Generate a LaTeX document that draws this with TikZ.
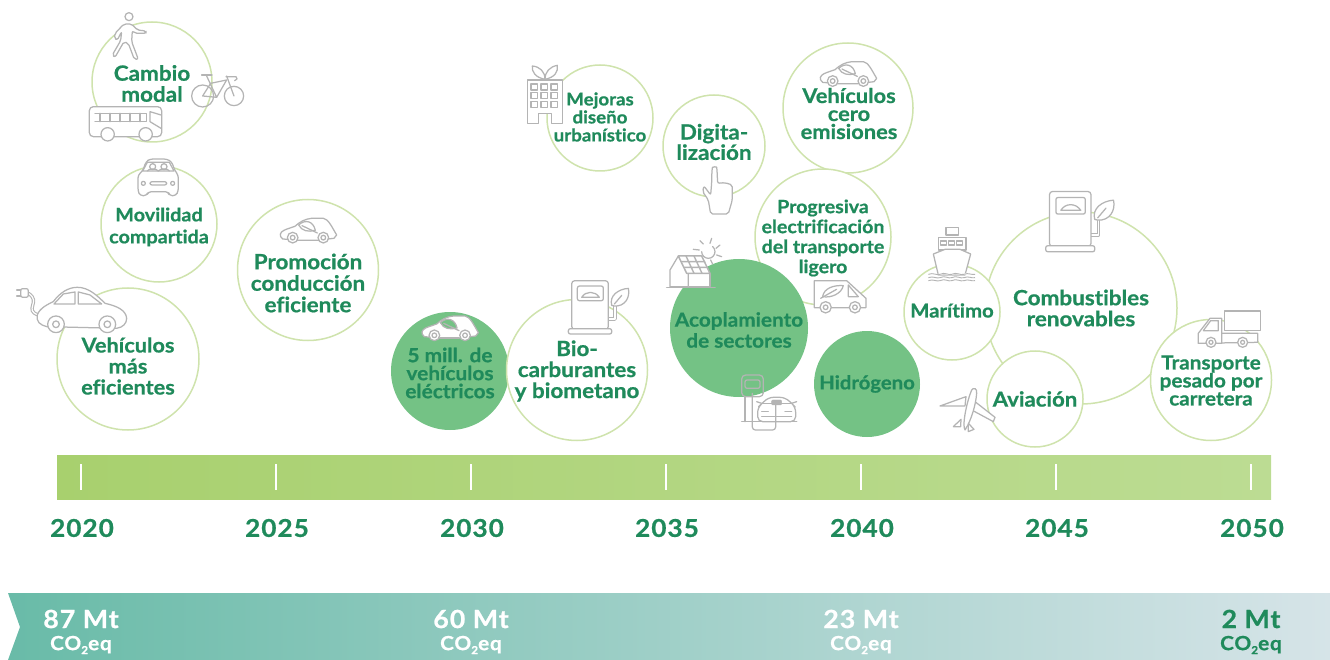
\documentclass[tikz,border=0pt]{standalone}
\usepackage{fontspec}
\setmainfont{Lato}[Ligatures=NoCommon,BoldFeatures={FakeBold=0.7,FakeStretch=1.07}]
\newfontfamily\spacedfont{Lato}[Ligatures=NoCommon,LetterSpace=4,BoldFeatures={FakeBold=0.7,FakeStretch=1.07}]
\definecolor{txtgreen}{HTML}{1F8A5B}
\definecolor{ringgreen}{HTML}{CFE3AD}
\definecolor{fillgreen}{HTML}{74C285}
\definecolor{icogray}{HTML}{B4B4B4}
\definecolor{barL}{HTML}{A8D06E}
\definecolor{barR}{HTML}{BCDC93}
\definecolor{bandL}{HTML}{69BBA8}
\definecolor{bandR}{HTML}{D6E4E8}
\colorlet{leaffill}{white}
\newcommand{\cotwo}{CO\raisebox{-.4ex}{\fontsize{11}{11}\selectfont 2}eq}
\tikzset{
 ring/.style={circle,draw=ringgreen,line width=1.5pt,fill=white,inner sep=0pt},
 solid disc/.style={circle,fill=fillgreen,inner sep=0pt},
 lbl/.style 2 args={text=txtgreen,align=center,inner sep=0pt,font=\bfseries\fontsize{#1}{#2}\selectfont},
 ico/.style={draw=icogray,line width=1.25pt,fill=white,line join=round},
 icol/.style={draw=icogray,line width=1.25pt,line join=round,line cap=round},
 tick mark/.style={draw=white,line width=1.2pt},
 year/.style={text=txtgreen,inner sep=0pt,font=\spacedfont\bfseries\fontsize{24.5}{24.5}\selectfont},
 mt/.style={inner sep=0pt,font=\spacedfont\bfseries\fontsize{25}{25}\selectfont},
 coeq/.style={inner sep=0pt,font=\spacedfont\bfseries\fontsize{19.5}{19.5}\selectfont},
 leafcar/.pic={\begin{scope}[x=.3333pt,y=-.3333pt]
   \path[ico] (8,62) .. controls (-4,52) and (0,42) .. (12,36) .. controls (25,30) and (35,28) .. (45,24) .. controls (60,10) and (75,2) .. (95,0) -- (130,0) .. controls (145,2) and (155,25) .. (170,50) -- (162,60) -- (112,66) -- (55,66) -- cycle;
   \path[icol] (55,66) -- (112,66);
   \path[ico,fill=leaffill] (56,20) .. controls (75,2) and (100,8) .. (106,36) .. controls (85,42) and (65,38) .. (56,20) -- cycle;
   \path[icol] (66,22) -- (112,44);
   \foreach \cx in {38,130}{\path[ico] (\cx,58) circle (16); \path[ico] (\cx,58) circle (7);}
 \end{scope}},
 fuelpump/.pic={\begin{scope}[x=.3333pt,y=-.3333pt]
   \path[draw=icogray,line width=3.6pt,line join=round] (105,115) -- (130,115) -- (130,76);
   \path[draw=white,line width=1.4pt,line join=round] (105,115) -- (130,115) -- (130,76);
   \path[ico] (120,74) .. controls (112,45) and (140,25) .. (170,23) .. controls (176,50) and (160,78) .. (128,76) .. controls (124,76) and (122,76) .. (120,74) -- cycle;
   \path[icol] (128,70) -- (150,44);
   \path[ico,rounded corners=3pt] (0,0) rectangle (110,146);
   \path[ico,rounded corners=2pt] (17,16) rectangle (95,60);
   \path[ico] (30,50) .. controls (42,30) and (70,30) .. (83,50) -- cycle;
   \path[ico,rounded corners=2pt] (-10,144) rectangle (120,160);
 \end{scope}}
}
\begin{document}
\begin{tikzpicture}[x=1pt,y=-1pt]
\useasboundingbox (0,0) rectangle (1330,660);
% timeline bar
\node[minimum width=1214pt,minimum height=44pt,inner sep=0pt,left color=barL,right color=barR,anchor=north west] (bar) at (57,455) {};
\foreach \x/\y in {81/2020,276/2025,471/2030,666/2035,861/2040,1056/2045,1251/2050}{
  \coordinate (ta\y) at (\x,464); \coordinate (tb\y) at (\x,490);
  \draw[tick mark] (ta\y) -- (tb\y);
  \node[year] (y\y) at (\x+1,528) {\y};
}
% band
\shade[left color=bandL,right color=bandR] (8,593) -- (1330,593) -- (1330,660) -- (8,660) -- (20,627) -- cycle;
\node[mt,text=white] (m87) at (81,619) {87 Mt};
\node[coeq,text=white] (c87) at (81,645) {\cotwo};
\node[mt,text=white] (m60) at (471,619) {60 Mt};
\node[coeq,text=white] (c60) at (471,645) {\cotwo};
\node[mt,text=white] (m23) at (861,619) {23 Mt};
\node[coeq,text=white] (c23) at (861,645) {\cotwo};
\node[mt,text=txtgreen] (m2) at (1251,619) {2 Mt};
\node[coeq,text=txtgreen] (c2) at (1251,645) {\cotwo};
% circles
\node[ring,minimum size=120pt] (cambio) at (152,82) {};
\node[ring,minimum size=116pt] (movil) at (159,224) {};
\node[ring,minimum size=141pt] (promo) at (308,270) {};
\node[ring,minimum size=142pt] (vmas) at (128,359) {};
\node[solid disc,minimum size=118pt] (cinco) at (450,371) {};
\node[ring,minimum size=141pt] (bio) at (577,370) {};
\node[ring,minimum size=106pt] (mejoras) at (600,118) {};
\node[ring,minimum size=102pt] (digita) at (714,146) {};
\node[ring,minimum size=130pt] (vcero) at (848,108) {};
\node[ring,minimum size=136pt] (progre) at (823,237) {};
\node[solid disc,minimum size=138pt] (acopla) at (739,328) {};
\node[solid disc,minimum size=106pt] (hidro) at (867,384) {};
\node[ring,minimum size=192pt] (combu) at (1081,308) {};
\node[ring,minimum size=96pt] (marit) at (952,312) {};
\node[ring,minimum size=96pt] (avia) at (1035,399) {};
\node[ring,minimum size=121pt] (pesado) at (1211,380) {};
% ------- icons, zoom-1 frame
\begin{scope}[x=.3333pt,y=-.3333pt]
  % walker
  \path[ico] (387,50) circle (12);
  \path[ico,rounded corners=2pt] (372,72) -- (395,72) -- (412,90) -- (438,93) -- (438,100) -- (405,100) -- (397,92) -- (395,125) -- (415,178) -- (403,178) -- (385,130) -- (372,125) -- (345,172) -- (337,165) -- (362,122) -- (365,95) -- (352,120) -- (343,115) -- (345,100) -- cycle;
  % bike
  \path[icol] (608,288) circle (33) (702,288) circle (29);
  \path[icol] (620,228) -- (650,292) -- (608,288) -- (632,250) -- (680,240) -- (650,292);
  \path[icol] (605,225) -- (636,225);
  \path[icol] (680,228) -- (702,288);
  \path[icol] (678,230) -- (708,230) .. controls (714,232) and (712,242) .. (704,242);
  % bus
  \path[ico,rounded corners=4pt] (268,320) rectangle (485,410);
  \path[icol] (285,340) -- (440,340) -- (440,365) -- (285,365);
  \foreach \x in {300,330,360,390,420}{\path[icol] (\x,340) -- (\x,365);}
  \path[icol] (450,335) -- (483,345) (450,335) -- (450,365) -- (483,385);
  \path[ico] (323,403) circle (20) (437,403) circle (20);
\end{scope}
% shared car
\begin{scope}[shift={(130,155)},x=.3333pt,y=-.3333pt]
  \path[ico,rounded corners=3pt] (38,48) -- (48,20) -- (60,12) -- (110,12) -- (125,20) -- (135,48) -- (145,60) -- (145,108) -- (138,122) -- (118,122) -- (115,110) -- (55,110) -- (50,122) -- (30,122) -- (24,108) -- (24,60) -- cycle;
  \path[icol] (52,22) -- (118,22) -- (132,48) -- (38,48) -- cycle;
  \path[ico] (68,35) circle (9) (102,35) circle (9);
  \path[icol] (52,48) .. controls (55,40) and (80,40) .. (85,48) .. controls (90,40) and (115,40) .. (118,48);
  \path[ico] (40,85) circle (6) (128,85) circle (6);
  \path[ico,rounded corners=2pt] (60,80) rectangle (110,90);
\end{scope}
% plug & e-car
\begin{scope}[x=.3333pt,y=-.3333pt]
  \path[draw=icogray,line width=3.4pt] (115,945) .. controls (70,930) and (125,905) .. (85,880);
  \path[draw=white,line width=1.2pt] (115,945) .. controls (70,930) and (125,905) .. (85,880);
  \path[ico,rounded corners=2pt] (62,866) rectangle (85,892);
  \path[icol] (50,870) -- (62,870) (50,888) -- (62,888);
  \path[ico] (140,980) .. controls (120,975) and (108,965) .. (112,945) .. controls (118,925) and (145,912) .. (160,905) .. controls (180,878) and (205,862) .. (232,862) .. controls (265,862) and (290,885) .. (315,910) .. controls (350,918) and (378,930) .. (380,955) .. controls (380,970) and (370,982) .. (350,985) -- (140,980) -- cycle;
  \path[ico] (162,912) -- (190,882) -- (225,876) -- (225,912) -- cycle;
  \path[ico] (235,876) -- (270,885) -- (305,912) -- (235,912) -- cycle;
  \foreach \cx in {168,322}{\path[ico] (\cx,973) circle (25); \path[ico] (\cx,973) circle (10);}
\end{scope}
\pic at (280,218.3) {leafcar};
\pic at (820,61.7) {leafcar};
\begin{scope}\colorlet{leaffill}{fillgreen}\pic at (421.7,316) {leafcar};\end{scope}
\pic at (571.7,280.7) {fuelpump};
\pic[scale=1.13] at (1049.5,191.5) {fuelpump};
% ------- icons, zoom-2 frame
\begin{scope}[shift={(400,40)},x=.3333pt,y=-.3333pt]
  % building
  \path[ico] (382,250) -- (382,120) -- (487,120) -- (487,250) -- (455,250) -- (455,220) -- (415,220) -- (415,250) -- cycle;
  \foreach \x in {393,423,453}\foreach \y in {132,158,184}{\path[icol] (\x,\y) rectangle (\x+20,\y+18);}
  \path[ico] (435,118) .. controls (405,112) and (395,95) .. (397,78) .. controls (420,80) and (435,95) .. (435,118) -- cycle;
  \path[ico] (435,118) .. controls (465,112) and (475,95) .. (472,76) .. controls (450,80) and (435,95) .. (435,118) -- cycle;
  % hand
  \path[ico,rounded corners=2pt] (935,430) -- (936,388) .. controls (938,380) and (950,380) .. (951,388) -- (953,430) -- (975,428) -- (997,435) -- (997,480) -- (985,522) -- (932,522) -- (925,480) -- (908,455) -- (912,438) -- (932,465) -- cycle;
  % van
  \path[ico] (1243,795) -- (1243,722) -- (1340,722) -- (1398,775) -- (1398,803) -- (1243,803) -- cycle;
  \path[icol] (1345,735) -- (1375,770) -- (1345,770) -- cycle;
  \path[ico] (1268,770) .. controls (1272,745) and (1300,735) .. (1330,737) .. controls (1325,760) and (1295,775) .. (1268,770) -- cycle;
  \path[icol] (1262,775) -- (1310,748);
  \foreach \cx in {1277,1365}{\path[ico] (\cx,802) circle (17); \path[ico] (\cx,802) circle (7);}
\end{scope}
% solar house
\begin{scope}[shift={(660,230)},x=.3333pt,y=-.3333pt]
  \path[icol] (125,65) arc (180:-50:20);
  \foreach \a/\b/\c/\d in {120/32/130/42,155/25/150/40,180/45/168/55,185/80/170/75,100/58/118/60,158/102/152/90}{\path[icol] (\a,\b) -- (\c,\d);}
  \path[ico] (30,170) -- (30,120) -- (55,78) -- (85,130) -- (85,170) -- cycle;
  \path[ico] (85,130) rectangle (150,170);
  \path[ico,line width=1.5pt] (55,78) -- (125,78) -- (150,130) -- (80,130) -- cycle;
  \path[icol,line width=1.4pt] (63,95) -- (134,95) (72,112) -- (142,112) (78,78) -- (102,130) (102,78) -- (126,130);
  \path[icol,line width=1.6pt] (20,172) -- (165,172);
\end{scope}
% charger + car
\begin{scope}[shift={(735,370)},x=.3333pt,y=-.3333pt]
  \path[icol,rounded corners=4pt] (20,15) rectangle (85,80);
  \path[icol,rounded corners=2pt] (30,30) rectangle (75,55);
  \path[icol] (30,80) -- (30,155);
  \path[ico,rounded corners=5pt] (68,155) -- (68,112) -- (82,100) -- (100,82) -- (150,82) -- (170,100) -- (182,112) -- (182,155) -- cycle;
  \path[icol] (82,100) -- (168,100);
  \path[icol] (65,95) -- (80,100) (185,95) -- (170,100);
  \path[draw=icogray,fill=icogray,rounded corners=1pt] (110,90) rectangle (140,105);
  \path[icol] (80,125) -- (100,125) (150,125) -- (170,125) (80,140) -- (170,140);
  \path[icol,rounded corners=3pt] (52,70) -- (52,180) -- (122,180) -- (122,105);
  \path[icol,line width=1.5pt] (20,155) -- (185,155);
\end{scope}
% ------- icons, zoom-3 frame
\begin{scope}[shift={(890,180)},x=.3333pt,y=-.3333pt]
  % ship
  \path[ico] (168,143) rectangle (205,165);
  \path[ico] (145,172) rectangle (228,210);
  \foreach \x in {152,176,200}{\path[icol] (\x,183) rectangle (\x+18,195);}
  \path[ico] (130,222) -- (165,208) -- (210,208) -- (242,222) -- (225,285) -- (145,285) -- cycle;
  \foreach \y in {283,293,302}{
    \path[draw=white,line width=1.4pt,fill=none] (115,\y) .. controls (130,\y-6) and (140,\y+4) .. (150,\y) .. controls (165,\y-8) and (175,\y+4) .. (185,\y) .. controls (200,\y-8) and (210,\y+4) .. (222,\y) .. controls (235,\y-6) and (245,\y+3) .. (255,\y);
    \path[draw=icogray,line width=.9pt] (115,\y) .. controls (130,\y-6) and (140,\y+4) .. (150,\y) .. controls (165,\y-8) and (175,\y+4) .. (185,\y) .. controls (200,\y-8) and (210,\y+4) .. (222,\y) .. controls (235,\y-6) and (245,\y+3) .. (255,\y);
  }
  % plane
  \path[ico] (150,678) -- (228,650) -- (225,678) -- cycle;
  \path[ico] (255,665) -- (315,712) -- (310,725) -- (245,690) -- cycle;
  \path[ico] (190,740) -- (213,718) -- (212,740) -- cycle;
  \path[ico] (235,730) -- (252,748) -- (235,755) -- cycle;
  \path[ico] (245,630) .. controls (250,622) and (262,624) .. (260,640) .. controls (258,670) and (245,720) .. (225,750) .. controls (215,735) and (232,660) .. (245,630) -- cycle;
  % truck
  \path[ico] (995,460) -- (1103,460) -- (1103,487) -- (925,490) -- cycle;
  \path[ico] (1003,393) rectangle (1112,452);
  \path[ico] (925,490) -- (925,460) -- (960,415) -- (995,415) -- (995,490) -- cycle;
  \path[icol] (940,452) -- (962,422) -- (985,422) -- (985,452) -- cycle;
  \foreach \cx in {963,1058}{\path[ico] (\cx,487) circle (15); \path[ico] (\cx,487) circle (6);}
\end{scope}
% ------- labels
\node[lbl={21}{21}] (tcambio) at (152,83.5) {Cambio\\modal};
\node[lbl={18.5}{22}] (tmovil) at (159,227) {Movilidad\\compartida};
\node[lbl={21}{21.5}] (tpromo) at (308,283) {Promoción\\conducción\\eficiente};
\node[lbl={20.3}{21}] (tvmas) at (128,366) {Vehículos\\más\\eficientes};
\node[lbl={19.5}{18}] (tcinco) at (450,373) {5 mill. de\\vehículos\\eléctricos};
\node[lbl={21}{21}] (tbio) at (577,371) {Bio-\\carburantes\\y biometano};
\node[lbl={17.5}{18}] (tmejoras) at (600,117) {Mejoras\\diseño\\urbanístico};
\node[lbl={21}{18}] (tdigita) at (714,142) {Digita-\\lización};
\node[lbl={20.4}{18}] (tvcero) at (849,113.5) {Vehículos\\cero\\emisiones};
\node[lbl={18.3}{20}] (tprogre) at (823,238) {Progresiva\\electrificación\\del transporte\\ligero};
\node[lbl={19.4}{21}] (tacopla) at (739,330) {Acoplamiento\\de sectores};
\node[lbl={19}{19}] (thidro) at (867,384) {Hidrógeno};
\node[lbl={21}{21}] (tcombu) at (1081,308) {Combustibles\\renovables};
\node[lbl={19}{19}] (tmarit) at (952,310.5) {Marítimo};
\node[lbl={20.7}{20.7}] (tavia) at (1035,399) {Aviación};
\node[lbl={19.4}{18}] (tpesado) at (1211,380.5) {Transporte\\pesado por\\carretera};
\end{tikzpicture}
\end{document}
